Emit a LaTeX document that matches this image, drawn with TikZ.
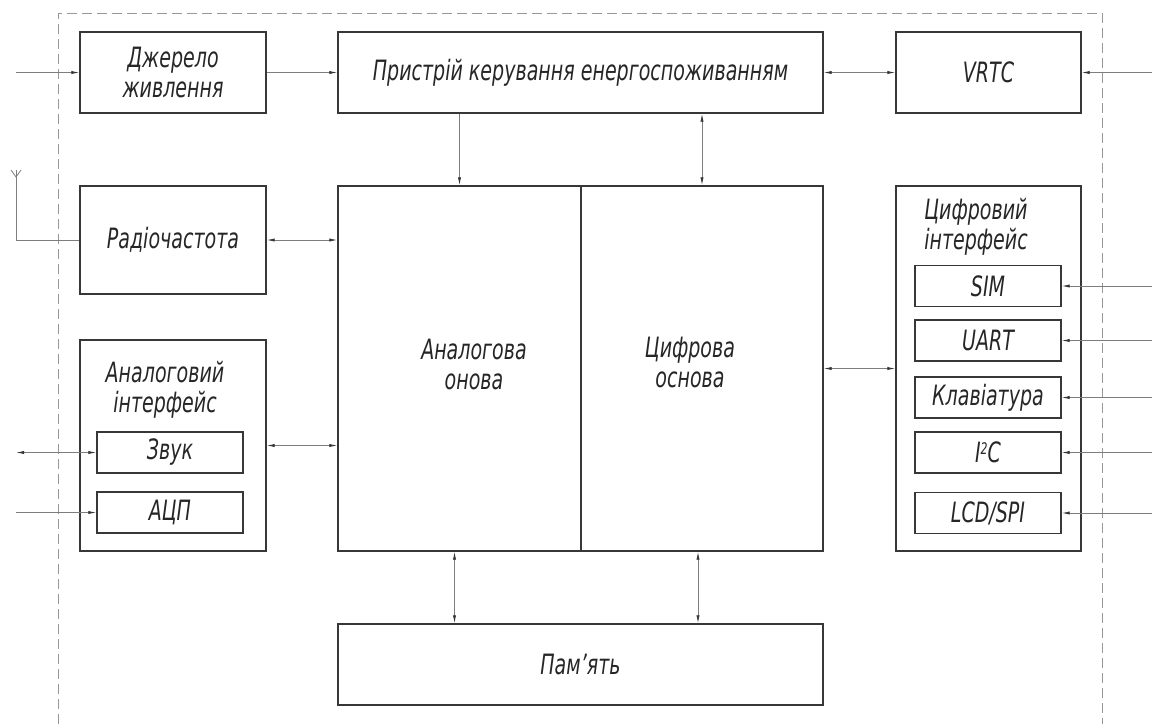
\documentclass[tikz,border=0pt]{standalone}
\usepackage{fontspec}
\setmainfont{DejaVu Sans}[FakeStretch=0.68]
\usetikzlibrary{positioning, calc, arrows.meta}

\definecolor{LineGray}{RGB}{125,125,125}
\definecolor{BoxGray}{RGB}{55,55,55}

\tikzstyle{Block} = [
draw=BoxGray,
line width=0.7pt,
rectangle,
inner sep=0pt,
align=center,
text=black!85,
font=\fontsize{14}{15}\selectfont\itshape]
\tikzstyle{SubBlock} = [Block, minimum width=73pt, minimum height=20.5pt]
\tikzstyle{Title} = [align=center, text=black!85, font=\fontsize{14}{15}\selectfont\itshape]
\tikzstyle{Wire} = [draw=LineGray, line width=0.4pt]
\tikzstyle{Arrow} = [Wire, -{Latex[length=4pt, width=1.6pt, color=BoxGray]}]
\tikzstyle{BiArrow} = [Wire,
{Latex[length=4pt, width=1.6pt, color=BoxGray]}-{Latex[length=4pt, width=1.6pt, color=BoxGray]}]
\tikzstyle{Frame} = [draw=LineGray!80, line width=0.4pt, dash pattern=on 5pt off 2.5pt]

\begin{document}
\begin{tikzpicture}[x=0.5pt, y=-0.5pt]
    \useasboundingbox (0,0) rectangle (1152,724);
    % outer dashed border
    \draw[Frame] (58,724) -- (58,13) -- (1102,13) -- (1102,724);

    % top row
    \node (pwr) [Block, minimum width=93pt, minimum height=40.5pt] at (173,72.5) {Джерело\\живлення};
    \node (pmu) [Block, minimum width=242.5pt, minimum height=40.5pt] at (580.5,72.5) {Пристрій керування енергоспоживанням};
    \node (vrtc) [Block, minimum width=92.5pt, minimum height=40.5pt] at (988.5,72.5) {VRTC};

    % core
    \node (ana) [Block, minimum width=121.5pt, minimum height=182.5pt] at (459.5,368.5) {};
    \node (dig) [Block, minimum width=121pt, minimum height=182.5pt] at (702,368.5) {};
    \node (anatxt) [Title] at (474,364) {Аналогова\\онова};
    \node (digtxt) [Title] at (690,362) {Цифрова\\основа};
    \node (mem) [Block, minimum width=242.5pt, minimum height=40.5pt] at (580.5,664.5) {Пам’ять};

    % left column
    \node (rf) [Block, minimum width=93pt, minimum height=54pt] at (173,240) {Радіочастота};
    \node (aif) [Block, minimum width=93pt, minimum height=105.5pt] at (173,445.5) {};
    \node (aiftxt) [Title] at (165,390) {Аналоговий\\інтерфейс};
    \node (snd) [SubBlock] at (170,452.5) {Звук};
    \node (adc) [SubBlock] at (170,512.5) {АЦП};

    % right column
    \node (dif) [Block, minimum width=92.5pt, minimum height=182.5pt] at (988.5,368.5) {};
    \node (diftxt) [Title] at (976,227) {Цифровий\\інтерфейс};
    \node (sim) [SubBlock] at (988,286) {SIM};
    \node (uart) [SubBlock] at (988,340.5) {UART};
    \node (kbd) [SubBlock] at (988,397.5) {Клавіатура};
    \node (iic) [SubBlock] at (988,452.5) {I{\fontsize{8}{8}\selectfont\raisebox{0.9ex}{2}}C};
    \node (lcd) [SubBlock] at (988,513) {LCD/SPI};

    % outside ends
    \coordinate (inpwr) at (16,72.5);
    \coordinate (invrtc) at (1152,72.5);
    \coordinate (antenna) at (16,177);
    \coordinate (insnd) at (16,452.5);
    \coordinate (inadc) at (16,512.5);
    \foreach \n in {sim, uart, kbd, iic, lcd}
        \coordinate (in\n) at (1152,0 |- \n.east);

    % connections
    \draw[Arrow] (inpwr) -- (pwr.west);
    \draw[Arrow] (pwr.east) -- (pmu.west);
    \draw[BiArrow] (pmu.east) -- (vrtc.west);
    \draw[Arrow] (invrtc) -- (vrtc.east);
    \draw[Arrow] (ana.north |- pmu.south) -- (ana.north);
    \draw[BiArrow] (dig.north |- pmu.south) -- (dig.north);
    \draw[BiArrow] (rf.east) -- (rf.east -| ana.west);
    \draw[BiArrow] (aif.east) -- (aif.east -| ana.west);
    \draw[BiArrow] (dig.east) -- (dif.west);
    \draw[BiArrow] ([xshift=-2.5pt]ana.south) -- ([xshift=-2.5pt]ana.south |- mem.north);
    \draw[BiArrow] ([xshift=-2pt]dig.south) -- ([xshift=-2pt]dig.south |- mem.north);
    \draw[BiArrow] (insnd) -- (snd.west);
    \draw[Arrow] (inadc) -- (adc.west);
    \foreach \n in {sim, uart, kbd, iic, lcd}
        \draw[Arrow] (in\n) -- (\n.east);

    % antenna
    \draw[Wire] (antenna) |- (rf.west);
    \draw[Wire] (11,170) -- (antenna) -- (21,170);
    \draw[Wire] (16,170) -- (antenna);
\end{tikzpicture}
\end{document}
